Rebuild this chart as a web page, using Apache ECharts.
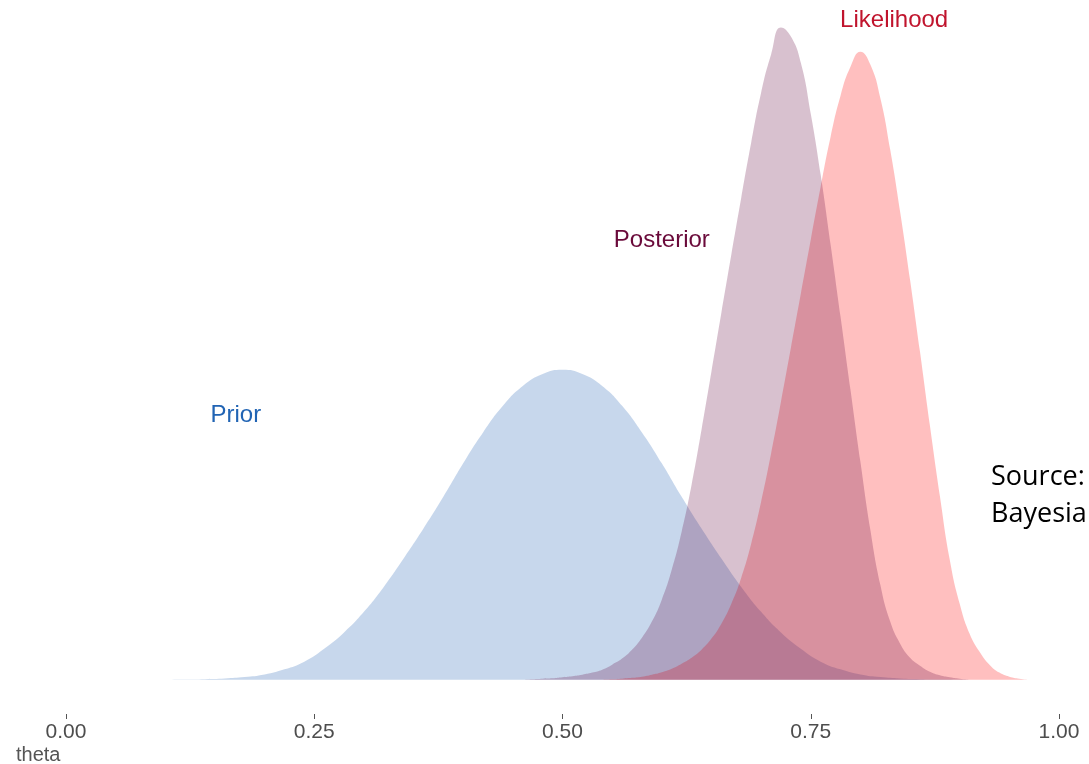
<!DOCTYPE html>
<html>
<head>
<meta charset="utf-8">
<script src="https://cdn.jsdelivr.net/npm/echarts@6/dist/echarts.min.js"></script>
<style>
  html, body { margin: 0; padding: 0; background: #fff; }
  #chart { width: 1089px; height: 764px; }
</style>
</head>
<body>
<div id="chart"></div>
<script>
// densities
const thetaPrior = [0.10, 0.12, 0.14, 0.16, 0.18, 0.20, 0.22, 0.24, 0.26, 0.28, 0.30, 0.32, 0.34, 0.36, 0.38,
  0.40, 0.42, 0.44, 0.46, 0.48, 0.50, 0.52, 0.54, 0.56, 0.58, 0.60, 0.62, 0.64, 0.66, 0.68, 0.70, 0.72, 0.74,
  0.76, 0.78, 0.80, 0.82, 0.84, 0.86, 0.88, 0.90]
const densPrior = [0, 0.002, 0.006, 0.014, 0.03, 0.06, 0.12, 0.21, 0.36, 0.55, 0.79, 1.08, 1.41, 1.76, 2.13,
  2.52, 2.88, 3.19, 3.42, 3.56, 3.61, 3.56, 3.42, 3.19, 2.88, 2.52, 2.13, 1.76, 1.41, 1.08, 0.79, 0.55, 0.36,
  0.21, 0.12, 0.06, 0.03, 0.014, 0.006, 0.002, 0]

const thetaPost = [0.46, 0.47, 0.48, 0.49, 0.50, 0.51, 0.52, 0.53, 0.54, 0.55, 0.56, 0.57, 0.58, 0.59, 0.60,
  0.61, 0.62, 0.63, 0.64, 0.65, 0.66, 0.67, 0.68, 0.69, 0.70, 0.71, 0.72, 0.73, 0.74, 0.75, 0.76, 0.77, 0.78,
  0.79, 0.80, 0.81, 0.82, 0.83, 0.84, 0.85, 0.86, 0.87, 0.88, 0.89, 0.90, 0.91]
const densPost = [0, 0.006, 0.012, 0.017, 0.029, 0.041, 0.058, 0.082, 0.116, 0.175, 0.245, 0.349, 0.489, 0.676,
  0.932, 1.281, 1.724, 2.271, 2.912, 3.588, 4.275, 4.950, 5.614, 6.255, 6.837, 7.280, 7.595, 7.490, 7.187,
  6.593, 5.882, 5.067, 4.228, 3.378, 2.539, 1.747, 1.107, 0.676, 0.419, 0.256, 0.163, 0.093, 0.052, 0.029,
  0.012, 0]

const thetaLik = [0.54, 0.55, 0.56, 0.57, 0.58, 0.59, 0.60, 0.61, 0.62, 0.63, 0.64, 0.65, 0.66, 0.67, 0.68,
  0.69, 0.70, 0.71, 0.72, 0.73, 0.74, 0.75, 0.76, 0.77, 0.78, 0.79, 0.80, 0.81, 0.82, 0.83, 0.84, 0.85, 0.86,
  0.87, 0.88, 0.89, 0.90, 0.91, 0.92, 0.93, 0.94, 0.95, 0.96, 0.97]
const densLik = [0, 0.005, 0.012, 0.021, 0.035, 0.058, 0.087, 0.128, 0.186, 0.256, 0.349, 0.478, 0.652, 0.885,
  1.188, 1.584, 2.073, 2.632, 3.238, 3.867, 4.496, 5.125, 5.743, 6.325, 6.802, 7.140, 7.315, 7.164, 6.779,
  6.174, 5.451, 4.659, 3.821, 2.959, 2.143, 1.398, 0.885, 0.536, 0.326, 0.175, 0.082, 0.035, 0.012, 0]

const xTicks = [0, 0.25, 0.5, 0.75, 1]

// annotation texts: [text, theta, density, colour]
const notes = [
  ['Likelihood', 0.834, 7.68, '#c0142d'],
  ['Posterior', 0.600, 5.12, '#6a0a3a'],
  ['Prior', 0.171, 3.08, '#2164b4']
]

const zip = (xs, ys) => xs.map((x, i) => [x, ys[i]])

function areaSeries(name, data, color) {
  return {
    name: name,
    type: 'line',
    data: data,
    smooth: 0.5,
    symbol: 'none',
    animation: false,
    lineStyle: { width: 0 },
    areaStyle: { color: color, opacity: 0.25 },
    emphasis: { disabled: true }
  }
}

const chart = echarts.init(document.getElementById('chart'))

chart.setOption({
  backgroundColor: '#fff',
  grid: { left: 66, right: 30, top: 10, bottom: 50 },
  xAxis: {
    type: 'value',
    min: 0,
    max: 1,
    interval: 0.25,
    axisLine: { show: false, onZero: false },
    axisTick: { show: true, length: 5, lineStyle: { color: '#555', width: 1 } },
    splitLine: { show: false },
    axisLabel: {
      margin: 8,
      color: '#4d4d4d',
      fontSize: 21,
      fontFamily: 'Liberation Sans',
      formatter: v => xTicks.includes(v) ? v.toFixed(2) : ''
    }
  },
  yAxis: {
    type: 'value',
    min: -0.4,
    max: 7.8,
    show: false
  },
  series: [
    areaSeries('Prior', zip(thetaPrior, densPrior), '#1f5fb3'),
    areaSeries('Likelihood', zip(thetaLik, densLik), '#ff0000'),
    areaSeries('Posterior', zip(thetaPost, densPost), '#63073f')
  ]
})

const graphics = notes.map(n => {
  const p = chart.convertToPixel({ gridIndex: 0 }, [n[1], n[2]])
  return {
    type: 'text',
    x: p[0],
    y: p[1],
    style: {
      text: n[0],
      fill: n[3],
      font: '24px "Liberation Sans"',
      textAlign: 'center',
      textVerticalAlign: 'middle'
    }
  }
})

graphics.push({
  type: 'text',
  left: 16,
  top: 745,
  style: { text: 'theta', fill: '#555', font: '20px "Liberation Sans"' }
})

graphics.push({
  type: 'text',
  x: 991,
  y: 459,
  style: { text: 'Source:\nBayesia', fill: '#000', font: '27px "Open Sans"', lineHeight: 37 }
})

chart.setOption({ graphic: graphics })
</script>
</body>
</html>
